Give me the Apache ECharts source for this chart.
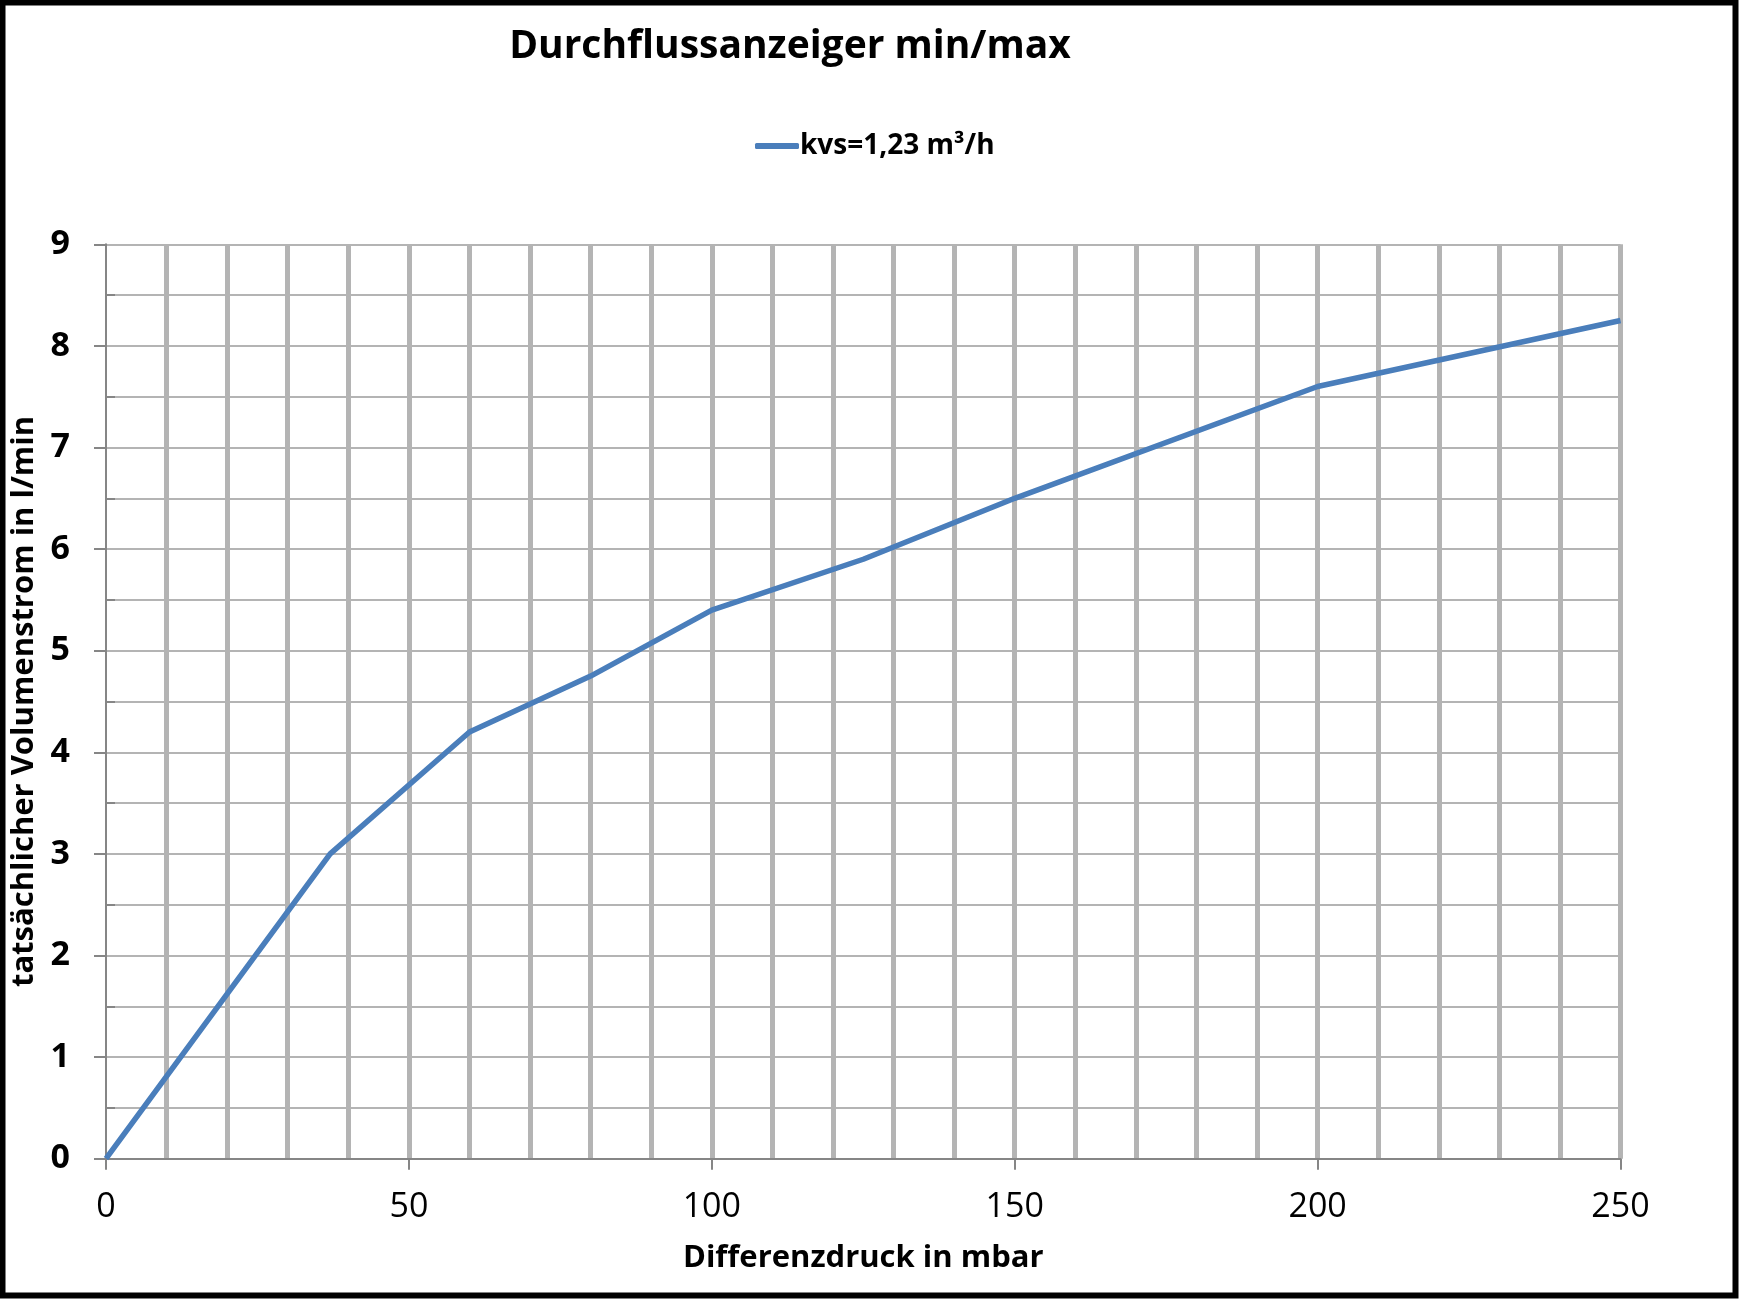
<!DOCTYPE html>
<html>
<head>
<meta charset="utf-8">
<script src="https://cdn.jsdelivr.net/npm/echarts@6/dist/echarts.min.js"></script>
<style>
html,body{margin:0;padding:0;background:#fff;}
#c{width:1739px;height:1299px;}
</style>
</head>
<body>
<div id="c"></div>
<script>
const titleText = 'Durchflussanzeiger min/max';
const seriesName = 'kvs=1,23 m³/h';
const xAxisName = 'Differenzdruck in mbar';
const yAxisName = 'tatsächlicher Volumenstrom in l/min';
const pressure = [0, 37, 60, 80, 100, 125, 150, 200, 250];
const flow = [0, 3.0, 4.2, 4.75, 5.4, 5.9, 6.5, 7.6, 8.25];

const FONT = '"Open Sans", "DejaVu Sans", sans-serif';
const chart = echarts.init(document.getElementById('c'), null, {renderer: 'canvas'});
const axisGray = '#868686';
const gridGray = '#b4b4b4';

chart.setOption({
  backgroundColor: '#ffffff',
  animation: false,
  title: {
    text: titleText,
    left: 785, top: 22, textAlign: 'center',
    textStyle: {fontFamily: FONT, fontWeight: 'bold', fontSize: 39, color: '#000'}
  },
  legend: {
    data: [seriesName],
    left: 750, top: 127,
    icon: 'roundRect', itemWidth: 44, itemHeight: 6, itemGap: 0,
    textStyle: {fontFamily: FONT, fontWeight: 'bold', fontSize: 28, color: '#000', padding: [0,0,0,-4]}
  },
  grid: {left: 106, right: 118.5, top: 244.3, bottom: 140.3, containLabel: false},
  xAxis: {
    type: 'value', min: 0, max: 250, interval: 50,
    name: xAxisName, nameLocation: 'middle', nameGap: 84,
    nameTextStyle: {fontFamily: FONT, fontWeight: 'bold', fontSize: 31, color: '#000'},
    axisLine: {show: true, lineStyle: {color: axisGray, width: 2}},
    axisTick: {show: true, length: 11, lineStyle: {color: axisGray, width: 2}},
    minorTick: {show: false, splitNumber: 5},
    axisLabel: {fontFamily: FONT, fontSize: 34, color: '#000', margin: 32},
    splitLine: {show: true, showMinLine: false, showMaxLine: true, lineStyle: {color: gridGray, width: 5}},
    minorSplitLine: {show: true, lineStyle: {color: gridGray, width: 5}}
  },
  yAxis: {
    type: 'value', min: 0, max: 9, interval: 1,
    name: yAxisName, nameLocation: 'middle', nameGap: 57, nameRotate: 90,
    nameTextStyle: {fontFamily: FONT, fontWeight: 'bold', fontSize: 31, color: '#000'},
    axisLine: {show: true, lineStyle: {color: axisGray, width: 2}},
    axisTick: {show: true, length: 12, lineStyle: {color: axisGray, width: 2}},
    minorTick: {show: true, splitNumber: 2, length: -9, lineStyle: {color: axisGray, width: 2}},
    axisLabel: {fontFamily: FONT, fontWeight: 'bold', fontSize: 34, color: '#000', margin: 36},
    splitLine: {show: true, showMinLine: false, showMaxLine: true, lineStyle: {color: gridGray, width: 2}},
    minorSplitLine: {show: true, lineStyle: {color: gridGray, width: 2}}
  },
  series: [{
    name: seriesName,
    type: 'line',
    data: pressure.map((p, i) => [p, flow[i]]),
    symbol: 'none',
    lineStyle: {color: '#4a7ebb', width: 5.5},
    itemStyle: {color: '#4a7ebb'},
    z: 5
  }],
  graphic: [{
    type: 'rect', silent: true, z: 100,
    shape: {x: 2.5, y: 2.5, width: 1733, height: 1293},
    style: {fill: 'none', stroke: '#000', lineWidth: 6}
  }]
});
</script>
</body>
</html>
